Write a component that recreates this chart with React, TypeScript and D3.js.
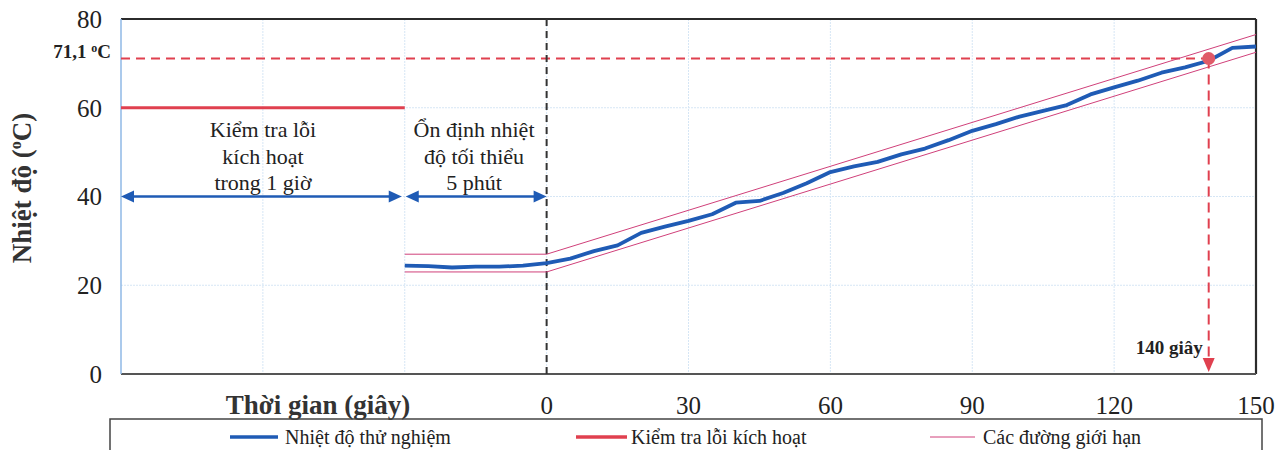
import React from "react";
import * as d3 from "d3";

const preTimes = [-30, -25, -20, -15, -10, -5, 0];
const preTemps = [24.4, 24.3, 24.0, 24.2, 24.2, 24.4, 25.0];
const rampTimes = [5, 10, 15, 20, 25, 30, 35, 40, 45, 50, 55, 60, 65, 70, 75, 80, 85, 90, 95, 100, 105, 110, 115, 120, 125, 130, 135, 140, 145, 150];
const rampTemps = [26.0, 27.7, 29.0, 31.8, 33.2, 34.5, 36.0, 38.6, 39.0, 40.8, 43.0, 45.5, 46.8, 47.8, 49.5, 50.8, 52.7, 54.8, 56.3, 58.0, 59.3, 60.6, 63.0, 64.6, 66.1, 67.9, 69.1, 70.6, 73.5, 73.8];
const upperLimitT = [-30, 0, 150];
const upperLimitV = [27, 27, 76.5];
const lowerLimitT = [-30, 0, 150];
const lowerLimitV = [23, 23, 72.5];
const triggerT = [-90, -30];
const triggerV = [60, 60];
const yTicks = [0, 20, 40, 60, 80];
const xTicks = [0, 30, 60, 90, 120, 150];
const xGrid = [-60, -30, 0, 30, 60, 90, 120];
const markT = 140;
const markV = 71.1;

const FONT = "'Liberation Serif', 'Times New Roman', serif";

export default function App() {
  const x = d3.scaleLinear().domain([-90, 150]).range([121, 1256]);
  const y = d3.scaleLinear().domain([0, 80]).range([374, 19]);
  const line = d3.line<[number, number]>().x((d) => x(d[0])).y((d) => y(d[1]));

  const tempData: [number, number][] = [
    ...preTimes.map((t, i) => [t, preTemps[i]] as [number, number]),
    ...rampTimes.map((t, i) => [t, rampTemps[i]] as [number, number]),
  ];
  const upper = upperLimitT.map((t, i) => [t, upperLimitV[i]] as [number, number]);
  const lower = lowerLimitT.map((t, i) => [t, lowerLimitV[i]] as [number, number]);
  const trig = triggerT.map((t, i) => [t, triggerV[i]] as [number, number]);

  const blue = "#1f5bb5";
  const red = "#e0404f";
  const pink = "#d0407a";

  const arrowY = y(40);
  const dblArrow = (x1: number, x2: number) => {
    const ah = 13, aw = 6;
    return (
      <g>
        <line x1={x1 + ah - 2} x2={x2 - ah + 2} y1={arrowY} y2={arrowY} stroke={blue} strokeWidth={2.5} />
        <polygon points={`${x1},${arrowY} ${x1 + ah},${arrowY - aw} ${x1 + ah},${arrowY + aw}`} fill={blue} />
        <polygon points={`${x2},${arrowY} ${x2 - ah},${arrowY - aw} ${x2 - ah},${arrowY + aw}`} fill={blue} />
      </g>
    );
  };

  const mx = x(markT);
  const my = y(markV);

  return (
    <svg width={1285} height={450} style={{ position: "absolute", left: 0, top: 0, background: "#fff" }} fontFamily={FONT}>
      {/* grid */}
      {xGrid.map((t) => (
        <line key={"gx" + t} x1={x(t)} x2={x(t)} y1={y(80)} y2={y(0)} stroke="#d6e6f5" strokeWidth={1} strokeDasharray="2,1" />
      ))}
      {[20, 40, 60].map((v) => (
        <line key={"gy" + v} x1={x(-90)} x2={x(150)} y1={y(v)} y2={y(v)} stroke="#d6e6f5" strokeWidth={1} strokeDasharray="2,1" />
      ))}

      {/* frame */}
      <line x1={x(-90)} x2={x(150)} y1={y(80)} y2={y(80)} stroke="#2b2b2b" strokeWidth={2.2} />
      <line x1={x(150)} x2={x(150)} y1={y(80)} y2={y(0)} stroke="#2b2b2b" strokeWidth={2.2} />
      <line x1={x(-90)} x2={x(150)} y1={y(0)} y2={y(0)} stroke="#555" strokeWidth={2} />
      <line x1={x(-90)} x2={x(-90)} y1={y(80)} y2={y(0)} stroke="#8fb8e6" strokeWidth={1.5} />

      {/* 71.1 dashed reference */}
      <line x1={x(-90)} x2={mx} y1={my} y2={my} stroke={red} strokeWidth={1.8} strokeDasharray="9,6" />

      {/* zero dashed line */}
      <line x1={x(0)} x2={x(0)} y1={y(80)} y2={y(0)} stroke="#333" strokeWidth={2} strokeDasharray="7,5" />

      {/* trigger check line */}
      <path d={line(trig) || ""} fill="none" stroke={red} strokeWidth={3} />

      {/* limits */}
      <path d={line(upper) || ""} fill="none" stroke={pink} strokeWidth={1} />
      <path d={line(lower) || ""} fill="none" stroke={pink} strokeWidth={1} />

      {/* temperature */}
      <path d={line(tempData) || ""} fill="none" stroke={blue} strokeWidth={3.8} strokeLinejoin="round" />

      {/* vertical red dashed to 140 s */}
      <line x1={mx} x2={mx} y1={my} y2={y(0) - 14} stroke={red} strokeWidth={2} strokeDasharray="10,6" />
      <polygon points={`${mx},${y(0) - 2} ${mx - 6},${y(0) - 16} ${mx + 6},${y(0) - 16}`} fill={red} />
      <circle cx={mx} cy={my} r={6.5} fill="#e05a68" />

      {/* arrows */}
      {dblArrow(x(-90), x(-30) - 3)}
      {dblArrow(x(-30) + 1, x(0))}

      {/* annotations */}
      <g fontSize={22} fill="#222" textAnchor="middle">
        <text x={263} y={137}>Kiểm tra lỗi</text>
        <text x={263} y={164}>kích hoạt</text>
        <text x={263} y={190}>trong 1 giờ</text>
        <text x={474} y={137}>Ổn định nhiệt</text>
        <text x={474} y={164}>độ tối thiểu</text>
        <text x={474} y={190}>5 phút</text>
      </g>
      <text x={mx - 6} y={354} fontSize={19} fontWeight="bold" textAnchor="end" fill="#222">140 giây</text>

      {/* y ticks */}
      {yTicks.map((v) => (
        <text key={"yt" + v} x={102} y={y(v)} dy="0.35em" fontSize={25} textAnchor="end" fill="#222">{v}</text>
      ))}
      <text x={111} y={58} fontSize={19} fontWeight="bold" textAnchor="end" fill="#222">
        71,1 <tspan fontSize={12} dy="-6">o</tspan><tspan dy="6">C</tspan>
      </text>

      {/* x ticks */}
      {xTicks.map((t) => (
        <text key={"xt" + t} x={x(t)} y={414} fontSize={25} textAnchor="middle" fill="#222">{t}</text>
      ))}
      <text x={318} y={414} fontSize={27} fontWeight="bold" textAnchor="middle" fill="#333">Thời gian (giây)</text>

      {/* y title */}
      <text transform={`translate(31,188) rotate(-90)`} fontSize={27} fontWeight="bold" textAnchor="middle" fill="#333">
        Nhiệt độ (<tspan fontSize={16} dy="-10">o</tspan><tspan dy="10">C)</tspan>
      </text>

      {/* legend */}
      <rect x={110} y={419} width={1152} height={60} fill="none" stroke="#444" strokeWidth={1.5} />
      <line x1={230} x2={278} y1={437} y2={437} stroke={blue} strokeWidth={3.5} />
      <text x={285} y={444} fontSize={20} fill="#222">Nhiệt độ thử nghiệm</text>
      <line x1={576} x2={627} y1={437} y2={437} stroke={red} strokeWidth={3.5} />
      <text x={631} y={444} fontSize={20} fill="#222">Kiểm tra lỗi kích hoạt</text>
      <line x1={930} x2={975} y1={437} y2={437} stroke={pink} strokeWidth={1} />
      <text x={983} y={444} fontSize={20} fill="#222">Các đường giới hạn</text>
    </svg>
  );
}
